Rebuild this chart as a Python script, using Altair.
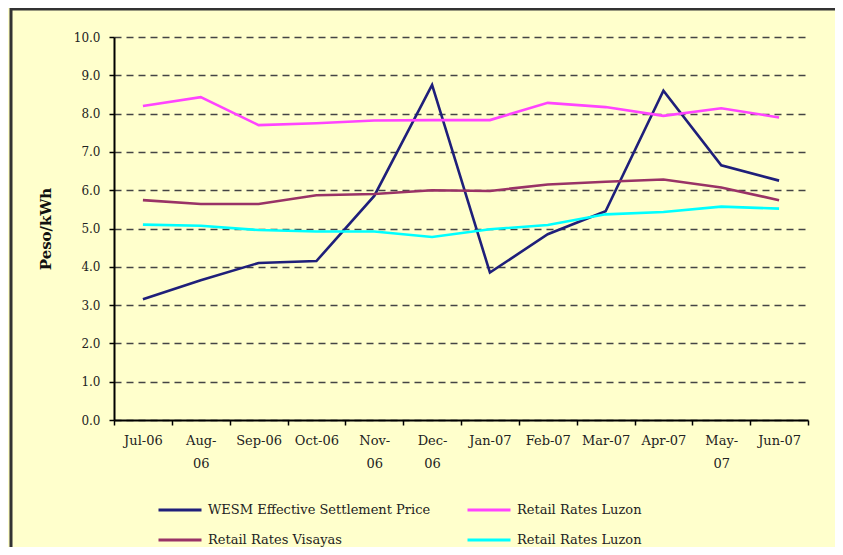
import json
import altair as alt
import pandas as pd

# ---- data ----
months = ["Jul-06", "Aug-06", "Sep-06", "Oct-06", "Nov-06", "Dec-06",
          "Jan-07", "Feb-07", "Mar-07", "Apr-07", "May-07", "Jun-07"]
wesm = [3.15, 3.65, 4.10, 4.15, 5.85, 8.75, 3.85, 4.85, 5.45, 8.60, 6.65, 6.25]
luzon_a = [8.20, 8.43, 7.70, 7.75, 7.82, 7.83, 7.83, 8.28, 8.17, 7.94, 8.14, 7.90]
visayas = [5.74, 5.64, 5.64, 5.87, 5.90, 6.00, 5.98, 6.15, 6.22, 6.28, 6.07, 5.74]
luzon_b = [5.10, 5.07, 4.96, 4.92, 4.92, 4.78, 4.98, 5.09, 5.37, 5.43, 5.57, 5.52]

series_keys = ["WESM Effective Settlement Price", "Retail Rates Luzon",
               "Retail Rates Visayas", "Retail Rates Luzon #2"]
series_values = [wesm, luzon_a, visayas, luzon_b]
series_colors = ["#1F1F7A", "#FF44FF", "#993366", "#00FFFF"]
y_ticks = [0, 1, 2, 3, 4, 5, 6, 7, 8, 9, 10]
wrapped_labels = ["Aug-06", "Nov-06", "Dec-06", "May-07"]

rows = []
for key, vals in zip(series_keys, series_values):
    for m, v in zip(months, vals):
        rows.append({"month": m, "value": v, "series": key})
df = pd.DataFrame(rows)

W, H = 694, 383
FONT = "DejaVu Serif"

label_expr = (
    f"indexof({json.dumps(wrapped_labels)}, datum.value) >= 0 ? "
    "[slice(datum.value, 0, 4), slice(datum.value, 4)] : datum.value"
)

lines = alt.Chart(df).mark_line(strokeWidth=2.6).encode(
    x=alt.X("month:N", sort=months,
            scale=alt.Scale(type="band", paddingInner=0, paddingOuter=0),
            axis=alt.Axis(title=None, labelAngle=0, labelExpr=label_expr,
                          labelBaseline="top", labelPadding=9,
                          labelLineHeight=23, labelFontSize=13,
                          labelFont=FONT, labelColor="#222222",
                          tickBand="extent", tickSize=5, tickColor="#000000",
                          tickWidth=1.5, domainColor="#000000",
                          domainWidth=2, grid=False)),
    y=alt.Y("value:Q", scale=alt.Scale(domain=[0, 10], nice=False),
            axis=alt.Axis(title="Peso/kWh", values=y_ticks, format=".1f",
                          labelFontSize=12, labelFont=FONT,
                          labelColor="#222222", labelPadding=9,
                          tickSize=5, tickColor="#000000", tickWidth=1.5,
                          domainColor="#000000", domainWidth=2,
                          grid=True, gridDash=[7, 5], gridColor="#444444",
                          gridWidth=1.4, titleFont=FONT, titleFontSize=15,
                          titleFontWeight="bold", titleColor="#111111",
                          titlePadding=20)),
    color=alt.Color("series:N",
                    scale=alt.Scale(domain=series_keys, range=series_colors),
                    sort=series_keys,
                    legend=alt.Legend(title=None, orient="none",
                                      direction="horizontal",
                                      legendX=43, legendY=450, columns=2,
                                      columnPadding=30, rowPadding=0,
                                      symbolType="stroke", symbolSize=1849,
                                      symbolStrokeWidth=3, labelOffset=5,
                                      labelFont=FONT, labelFontSize=13,
                                      labelColor="#222222",
                                      labelLimit=400,
                                      labelExpr="replace(datum.label, ' #2', '')")),
)

frame = alt.Chart(pd.DataFrame({"a": [0]})).mark_rule(
    stroke="#333333", strokeWidth=3
).encode(
    x=alt.value(-103), x2=alt.value(W + 40),
    y=alt.value(-28), y2=alt.value(-28),
)
frame_left = alt.Chart(pd.DataFrame({"a": [0]})).mark_rule(
    stroke="#333333", strokeWidth=3
).encode(
    x=alt.value(-103), x2=alt.value(-103),
    y=alt.value(-29), y2=alt.value(H + 140),
)

chart = alt.layer(frame, frame_left, lines).properties(
    width=W, height=H,
    autosize=alt.AutoSizeParams(type="none"),
    padding={"left": 106, "top": 29, "right": 27, "bottom": 127},
    background="#FFFFCC",
).configure_view(stroke="transparent")

chart.save("out.html", embed_options={"renderer": "svg", "actions": False})
